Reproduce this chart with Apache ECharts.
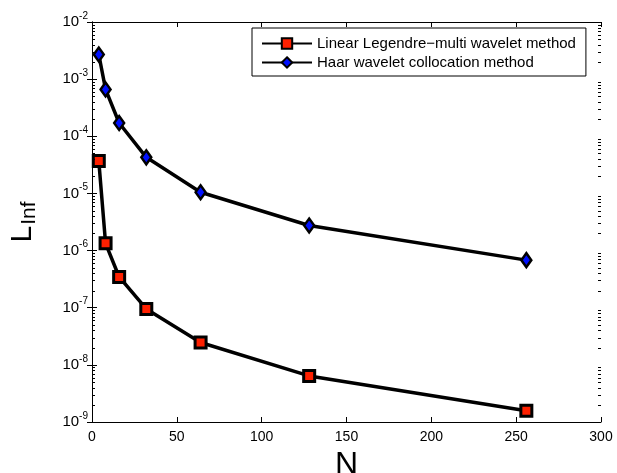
<!DOCTYPE html>
<html>
<head>
<meta charset="utf-8">
<script src="https://cdn.jsdelivr.net/npm/echarts@6/dist/echarts.min.js"></script>
<style>html,body{margin:0;padding:0;background:#fff;}#c{width:617px;height:473px;}</style>
</head>
<body>
<div id="c"></div>
<script>
const N = [4, 8, 16, 32, 64, 128, 256];
const legendreErr = [3.7e-5, 1.34e-6, 3.45e-7, 9.5e-8, 2.46e-8, 6.4e-9, 1.58e-9];
const haarErr = [2.7e-3, 6.6e-4, 1.71e-4, 4.28e-5, 1.05e-5, 2.75e-6, 6.8e-7];
const xTicks = [0, 50, 100, 150, 200, 250, 300];
const yDecades = [-9, -8, -7, -6, -5, -4, -3, -2];
const seriesNames = ['Linear Legendre\u2212multi wavelet method', 'Haar wavelet collocation method'];

const minorVals = [];
for (let e = -9; e < -2; e++) for (let k = 2; k <= 9; k++) minorVals.push(k * Math.pow(10, e));

const font = 'Liberation Sans, Arial, Helvetica, sans-serif';
const chart = echarts.init(document.getElementById('c'));
const yLabelFmt = v => '{b|10}{s|' + Math.round(Math.log10(v)) + '}';
chart.setOption({
  animation: false,
  backgroundColor: '#fff',
  grid: { left: 92, right: 16, top: 22, bottom: 51, containLabel: false, outerBoundsMode: 'none' },
  legend: {
    left: 252, top: 28, orient: 'vertical',
    itemWidth: 50, itemHeight: 13, itemGap: 4,
    padding: [8, 10, 6, 9],
    backgroundColor: '#fff', borderColor: '#000', borderWidth: 1, borderRadius: 0,
    textStyle: { fontFamily: font, fontSize: 15, color: '#000' },
    data: seriesNames
  },
  xAxis: [{
    type: 'value', min: 0, max: 300, interval: 50,
    name: 'N', nameLocation: 'middle', nameGap: 24,
    nameTextStyle: { fontFamily: font, fontSize: 32, color: '#000' },
    axisLine: { show: true, lineStyle: { color: '#000', width: 1 } },
    axisTick: { show: true, inside: true, length: 5, lineStyle: { color: '#000' } },
    axisLabel: { fontFamily: font, fontSize: 14, color: '#000', margin: 8 },
    splitLine: { show: false }
  }, {
    type: 'value', min: 0, max: 300, interval: 50, position: 'top',
    axisLine: { show: true, lineStyle: { color: '#000', width: 1 } },
    axisTick: { show: true, inside: true, length: 5, lineStyle: { color: '#000' } },
    axisLabel: { show: false }, splitLine: { show: false }
  }],
  yAxis: [{
    type: 'log', logBase: 10, min: 1e-9, max: 1e-2,
    name: '{L|L}{i|Inf}', nameLocation: 'middle', nameGap: 52,
    nameTextStyle: {
      color: '#000',
      rich: {
        L: { fontFamily: font, fontSize: 30, color: '#000' },
        i: { fontFamily: font, fontSize: 21, color: '#000', padding: [14, 0, 0, 1] }
      }
    },
    axisLine: { show: true, lineStyle: { color: '#000', width: 1 } },
    axisTick: { show: true, inside: true, length: 5, lineStyle: { color: '#000' } },
    minorTick: { show: false },
    axisLabel: {
      formatter: yLabelFmt, margin: 4,
      rich: {
        b: { fontFamily: font, fontSize: 15, color: '#000' },
        s: { fontFamily: font, fontSize: 10, color: '#000', padding: [0, 0, 12, 0] }
      }
    },
    splitLine: { show: false }
  }, {
    type: 'log', logBase: 10, min: 1e-9, max: 1e-2, position: 'right',
    axisLine: { show: true, lineStyle: { color: '#000', width: 1 } },
    axisTick: { show: true, inside: true, length: 5, lineStyle: { color: '#000' } },
    axisLabel: { show: false }, splitLine: { show: false }
  }],
  series: [{
    type: 'custom', name: 'minor', silent: true, xAxisIndex: 0, yAxisIndex: 0,
    data: minorVals.map(v => [0, v]),
    clip: false, z: 5,
    renderItem: (params, api) => {
      const v = api.value(1);
      const a = api.coord([0, v]);
      const b = api.coord([300, v]);
      const y = Math.round(a[1]) + 0.5;
      return {
        type: 'group', children: [
          { type: 'line', shape: { x1: a[0], y1: y, x2: a[0] + 3, y2: y }, style: { stroke: '#000', lineWidth: 1 } },
          { type: 'line', shape: { x1: b[0] - 3, y1: y, x2: b[0], y2: y }, style: { stroke: '#000', lineWidth: 1 } }
        ]
      };
    }
  }, {
    type: 'line', name: seriesNames[0],
    data: N.map((n, i) => [n, legendreErr[i]]),
    symbol: 'rect', symbolSize: 11, showAllSymbol: true,
    lineStyle: { color: '#000', width: 3.5 },
    itemStyle: { color: '#ff2000', borderColor: '#000', borderWidth: 3 },
    clip: false, z: 3
  }, {
    type: 'line', name: seriesNames[1],
    data: N.map((n, i) => [n, haarErr[i]]),
    symbol: 'diamond', symbolSize: [10, 14], showAllSymbol: true,
    lineStyle: { color: '#000', width: 3.5 },
    itemStyle: { color: '#0010ff', borderColor: '#000', borderWidth: 2.5 },
    clip: false, z: 3
  }]
});
</script>
</body>
</html>
